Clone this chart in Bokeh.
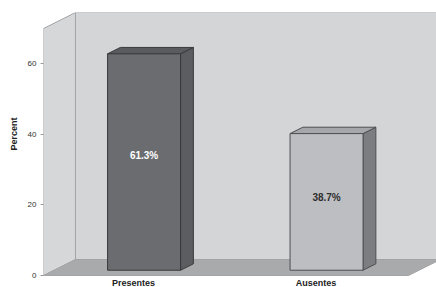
from bokeh.plotting import figure
from bokeh.models import Range1d, FixedTicker, ColumnDataSource, Title
from bokeh.embed import file_html
from bokeh.resources import INLINE
from bokeh.core.properties import value

# ---- data ----
categories = ["Presentes", "Ausentes"]
percents = [61.3, 38.7]
value_labels = ["61.3%", "38.7%"]
y_ticks = [0, 20, 40, 60]
y_title = "Percent"

# ---- styles ----
front_colors = ["#6b6c70", "#bdbec1"]
side_colors = ["#5c5d60", "#7c7d80"]
top_colors = ["#5a5b5e", "#a6a7aa"]
edge_colors = ["#3a3a3c", "#4e4f52"]
label_colors = ["#ffffff", "#2e2e2e"]
FONT = "Liberation Sans"

# ---- layout ----
W, H = 436, 287
ML, MR, MT, MB = 43, 0, 12, 0
PX_PER_CAT = 182.5
PX_PER_PCT = 3.53
BOTTOM_PAD = 12               # px below the floor front edge
frame_w = W - ML - MR
frame_h = H - MT - MB

x0 = 1 - 90 / PX_PER_CAT
y0 = -BOTTOM_PAD / PX_PER_PCT
x_range = Range1d(x0, x0 + frame_w / PX_PER_CAT)
y_range = Range1d(y0, y0 + frame_h / PX_PER_PCT)

DX = 32 / PX_PER_CAT          # depth vector (x)
DY = 16 / PX_PER_PCT          # depth vector (y)
XL = x0
XR = x0 + 365 / PX_PER_CAT
YT = y_range.end - DY
BW = 73 / PX_PER_CAT          # bar width
F = 0.33                      # bar front depth fraction
BD = 0.40                     # bar depth fraction

p = figure(width=W, height=H, x_range=x_range, y_range=y_range,
           output_backend="svg", toolbar_location=None,
           min_border_left=ML, min_border_right=MR,
           min_border_top=MT, min_border_bottom=MB)
p.outline_line_color = None
p.grid.visible = False
p.background_fill_color = "white"
p.border_fill_color = "white"
p.xaxis.visible = False

wall_line = "#a3a4a6"
# back wall
p.patch([XL + DX, XR + DX + 1, XR + DX + 1, XL + DX],
        [DY, DY, YT + DY, YT + DY],
        fill_color="#d4d5d7", line_color=wall_line, line_width=1)
# left wall
p.patch([XL, XL + DX, XL + DX, XL],
        [0, DY, YT + DY, YT],
        fill_color="#d6d7d9", line_color=wall_line, line_width=1)
# floor
p.patch([XL, XR, XR + DX, XL + DX],
        [0, 0, DY, DY],
        fill_color="#a9aaac", line_color=wall_line, line_width=1)

# bars
cat_x = [i + 1 for i in range(len(categories))]
for i, (cx, v) in enumerate(zip(cat_x, percents)):
    xa = cx - BW / 2 + F * DX
    xb = cx + BW / 2 + F * DX
    yb = F * DY
    yt = yb + v
    ddx, ddy = BD * DX, BD * DY
    # side
    p.patch([xb, xb + ddx, xb + ddx, xb], [yb, yb + ddy, yt + ddy, yt],
            fill_color=side_colors[i], line_color=edge_colors[i], line_width=1)
    # top
    p.patch([xa, xb, xb + ddx, xa + ddx], [yt, yt, yt + ddy, yt + ddy],
            fill_color=top_colors[i], line_color=edge_colors[i], line_width=1)
    # front
    p.patch([xa, xb, xb, xa], [yb, yb, yt, yt],
            fill_color=front_colors[i], line_color=edge_colors[i], line_width=1)

# value labels
src = ColumnDataSource(dict(
    x=[cx + F * DX for cx in cat_x],
    y=[F * DY + 0.53 * v for v in percents],
    t=value_labels,
    c=label_colors,
))
p.text(x="x", y="y", text="t", source=src, text_color="c",
       text_font=value(FONT), text_font_size="10px", text_font_style="bold",
       text_align="center", text_baseline="middle")

# category labels (below the floor front edge)
csrc = ColumnDataSource(dict(x=cat_x, y=[0] * len(cat_x), t=categories))
p.text(x="x", y="y", text="t", source=csrc, text_color="#222222",
       text_font=value(FONT), text_font_size="9px", text_font_style="bold",
       text_align="center", text_baseline="top", y_offset=2)

# y axis
ya = p.yaxis[0]
ya.ticker = FixedTicker(ticks=y_ticks)
ya.major_label_text_font = FONT
ya.major_label_text_font_size = "8px"
ya.major_label_text_color = "#333333"
ya.major_label_standoff = 4
ya.axis_line_color = None
ya.major_tick_in = 0
ya.major_tick_out = 3
ya.major_tick_line_color = "#999999"
ya.minor_tick_line_color = None
ya.minor_tick_out = 0
ya.minor_tick_in = 0

# y title on the left, placed at the middle of the front wall
p.add_layout(Title(text=y_title, align="left", offset=137, standoff=12,
                   text_font=FONT, text_font_size="9px",
                   text_font_style="bold", text_color="#222222"), "left")

open("out.html", "w").write(file_html(p, INLINE))
